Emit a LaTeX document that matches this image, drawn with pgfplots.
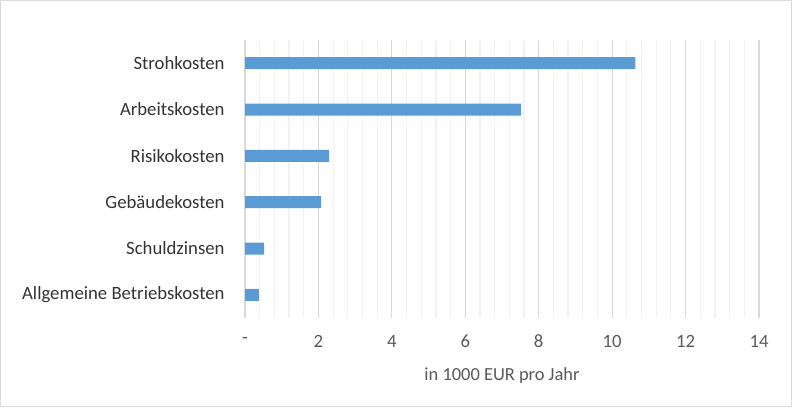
\documentclass[border=0pt]{standalone}
\usepackage{fontspec}
\setmainfont{Carlito}
\usepackage{pgfplots}
\pgfplotsset{compat=1.18}
\definecolor{barblue}{HTML}{5B9BD5}
\definecolor{majgrid}{HTML}{D9D9D9}
\definecolor{mingrid}{HTML}{F2F2F2}
\definecolor{txt}{HTML}{595959}
\definecolor{ytxt}{HTML}{333333}
\begin{document}
\begin{tikzpicture}[x=1bp,y=1bp]
\draw[majgrid, line width=1bp] (0.5,0.5) rectangle (791.5,406.5);
\begin{axis}[
	at={(245bp,89bp)}, anchor=south west,
	width=514bp, height=278bp, scale only axis,
	xbar, bar width=12bp,
	xmin=0, xmax=14, ymin=-0.5, ymax=5.5,
	ytick={0,1,2,3,4,5},
	yticklabels={Allgemeine Betriebskosten, Schuldzinsen, Gebäudekosten, Risikokosten, Arbeitskosten, Strohkosten},
	xtick={0,2,4,6,8,10,12,14},
	xticklabels={-,2,4,6,8,10,12,14},
	minor x tick num=4,
	xmajorgrids=true, xminorgrids=true,
	major grid style={majgrid, line width=1.2bp},
	minor grid style={mingrid, line width=1.2bp},
	axis line style={draw=none},
	major tick style={draw=none}, minor tick style={draw=none},
	tick label style={font=\fontsize{18.8}{21}\selectfont, text=txt},
	yticklabel style={inner sep=0pt, anchor=east, xshift=-16bp, text=ytxt},
	xticklabel style={inner sep=0pt, anchor=center, yshift=-23bp},
	xlabel={in 1000 EUR pro Jahr},
	xlabel style={font=\fontsize{18.5}{21}\selectfont, text=txt, at={(rel axis cs:0.5,0)}, anchor=center, yshift=-58bp},
]
\addplot[fill=barblue, draw=none] coordinates {
	(0.38,0) (0.52,1) (2.07,2) (2.29,3) (7.52,4) (10.63,5)
};
\end{axis}
\end{tikzpicture}
\end{document}
